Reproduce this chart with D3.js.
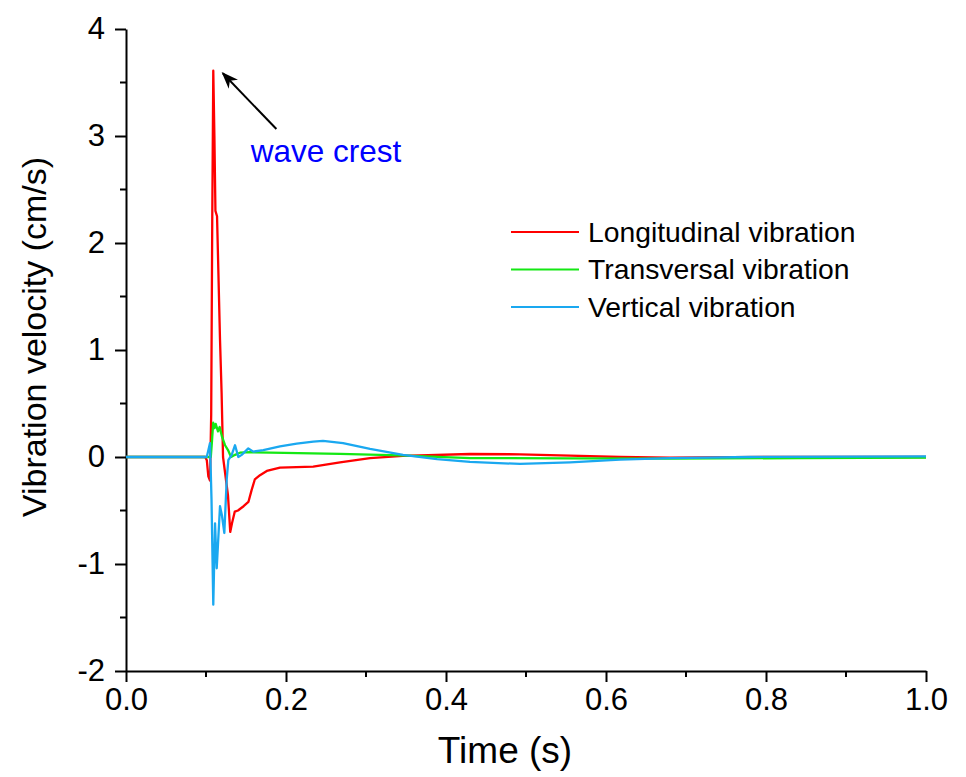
<!DOCTYPE html>
<html>
<head>
<meta charset="utf-8">
<script src="https://cdn.jsdelivr.net/npm/d3@7"></script>
<style>
  body { margin: 0; background: #fff; }
  svg { font-family: "Liberation Sans", Arial, sans-serif; }
</style>
</head>
<body>
<svg id="chart" width="966" height="777"></svg>
<script>
// series: [time (s), velocity (cm/s)]
const longitudinal = [
  [0, 0], [0.05, 0], [0.099, 0], [0.101, -0.03], [0.1029, -0.18], [0.105, -0.22],
  [0.1065, 0.4], [0.1078, 2.2], [0.1091, 3.61], [0.1105, 3.0], [0.1118, 2.3],
  [0.1138, 2.25], [0.1175, 1.1], [0.1195, 0.6], [0.1213, 0.0], [0.1275, -0.36],
  [0.1303, -0.70], [0.1325, -0.62], [0.136, -0.51], [0.140, -0.50], [0.147, -0.46],
  [0.153, -0.42], [0.157, -0.31], [0.161, -0.21], [0.1675, -0.17], [0.176, -0.13],
  [0.1925, -0.10], [0.234, -0.09], [0.2675, -0.05], [0.305, -0.01], [0.346, 0.01],
  [0.43, 0.028], [0.4925, 0.025], [0.555, 0.012], [0.6175, 0.0], [0.68, -0.005],
  [0.8, 0.0], [1.0, 0.0]
];
const transversal = [
  [0, 0], [0.05, 0], [0.106, 0], [0.1075, 0.15], [0.109, 0.32], [0.1106, 0.27],
  [0.1121, 0.31], [0.115, 0.24], [0.1171, 0.28], [0.12, 0.19], [0.1238, 0.11],
  [0.1275, 0.065], [0.1313, 0.0], [0.1363, 0.02], [0.1425, 0.04], [0.155, 0.045],
  [0.18, 0.04], [0.2675, 0.03], [0.3425, 0.015], [0.43, -0.01], [0.555, -0.012],
  [0.68, -0.015], [0.8425, -0.01], [1.0, -0.005]
];
const vertical = [
  [0, 0], [0.05, 0], [0.1009, 0], [0.1025, 0.05], [0.105, 0.13], [0.1069, -0.4],
  [0.1091, -1.38], [0.1113, -0.62], [0.1134, -1.04], [0.1175, -0.46], [0.12, -0.55],
  [0.1229, -0.71], [0.1259, -0.21], [0.1279, -0.03], [0.1321, 0.02], [0.1363, 0.11],
  [0.1404, 0.0], [0.1446, 0.02], [0.1529, 0.08], [0.1591, 0.05], [0.1716, 0.065],
  [0.1925, 0.1], [0.2134, 0.125], [0.2341, 0.143], [0.2463, 0.15], [0.2713, 0.13],
  [0.305, 0.075], [0.3463, 0.019], [0.3888, -0.02], [0.43, -0.046], [0.4925, -0.065],
  [0.555, -0.05], [0.6175, -0.025], [0.68, -0.01], [0.78, 0.0], [1.0, 0.005]
];

const seriesNames = ["Longitudinal vibration", "Transversal vibration", "Vertical vibration"];
const seriesColors = ["#ff0000", "#14e814", "#1aa8f0"];
const seriesData = [longitudinal, transversal, vertical];

const xTicks = [0, 0.2, 0.4, 0.6, 0.8, 1.0];
const xMinor = [0.1, 0.3, 0.5, 0.7, 0.9];
const yTicks = [-2, -1, 0, 1, 2, 3, 4];
const yMinor = [-1.5, -0.5, 0.5, 1.5, 2.5, 3.5];

// annotation: arrow tail -> tip, label position (data units)
const crestArrow = [[0.188, 3.065], [0.121, 3.586]];
const crestLabel = [0.156, 2.76];

const svg = d3.select("#chart");
const x = d3.scaleLinear().domain([0, 1]).range([126, 926]);
const y = d3.scaleLinear().domain([-2, 4]).range([671, 29]);

const axisFont = "31px";

// x axis
const xAxis = svg.append("g").attr("transform", `translate(0, ${y(-2)})`);
xAxis.call(d3.axisBottom(x).tickValues(xTicks).tickSize(11).tickSizeOuter(0)
  .tickPadding(6).tickFormat(d3.format(".1f")));
xAxis.append("g").selectAll("line").data(xMinor).join("line")
  .attr("x1", d => x(d)).attr("x2", d => x(d)).attr("y1", 0).attr("y2", 6)
  .attr("stroke", "#000").attr("stroke-width", 2);

// y axis
const yAxis = svg.append("g").attr("transform", `translate(${x(0)}, 0)`);
yAxis.call(d3.axisLeft(y).tickValues(yTicks).tickSize(11).tickSizeOuter(0)
  .tickPadding(10).tickFormat(d => String(d)));
yAxis.append("g").selectAll("line").data(yMinor).join("line")
  .attr("y1", d => y(d)).attr("y2", d => y(d)).attr("x1", 0).attr("x2", -6)
  .attr("stroke", "#000").attr("stroke-width", 2);

svg.selectAll(".domain, .tick line").attr("stroke", "#000").attr("stroke-width", 2);
svg.selectAll(".tick text").attr("fill", "#000").style("font-size", axisFont)
  .style("font-family", "'Liberation Sans', Arial, sans-serif");

// axis titles
svg.append("text")
  .attr("x", 505).attr("y", 763)
  .attr("text-anchor", "middle")
  .style("font-size", "37px")
  .text("Time (s)");

svg.append("text")
  .attr("transform", `translate(46, 337) rotate(-90)`)
  .attr("text-anchor", "middle")
  .style("font-size", "34px")
  .text("Vibration velocity (cm/s)");

// lines
const line = d3.line().x(d => x(d[0])).y(d => y(d[1]));
svg.append("g").selectAll("path").data(seriesData).join("path")
  .attr("d", line)
  .attr("fill", "none")
  .attr("stroke", (d, i) => seriesColors[i])
  .attr("stroke-width", 2.3)
  .attr("stroke-linejoin", "round");

// legend
const legend = svg.append("g").attr("transform", "translate(511, 232)");
const rows = legend.selectAll("g").data(seriesNames).join("g")
  .attr("transform", (d, i) => `translate(0, ${i * 37.5})`);
rows.append("line").attr("x1", 0).attr("x2", 68)
  .attr("stroke", (d, i) => seriesColors[i]).attr("stroke-width", 2);
rows.append("text").attr("x", 77).attr("dy", "0.35em")
  .style("font-size", "28.3px").text(d => d);

// wave crest annotation
svg.append("defs").append("marker")
  .attr("id", "head").attr("viewBox", "0 0 10 10")
  .attr("refX", 9).attr("refY", 5)
  .attr("markerWidth", 17).attr("markerHeight", 13)
  .attr("markerUnits", "userSpaceOnUse")
  .attr("preserveAspectRatio", "none")
  .attr("orient", "auto")
  .append("path").attr("d", "M0,0 L10,5 L0,10 L3,5 Z").attr("fill", "#000");

svg.append("line")
  .attr("x1", x(crestArrow[0][0])).attr("y1", y(crestArrow[0][1]))
  .attr("x2", x(crestArrow[1][0])).attr("y2", y(crestArrow[1][1]))
  .attr("stroke", "#000").attr("stroke-width", 2)
  .attr("marker-end", "url(#head)");

svg.append("text")
  .attr("x", x(crestLabel[0])).attr("y", y(crestLabel[1]))
  .attr("fill", "#0000ff")
  .style("font-size", "31.5px")
  .text("wave crest");
</script>
</body>
</html>
